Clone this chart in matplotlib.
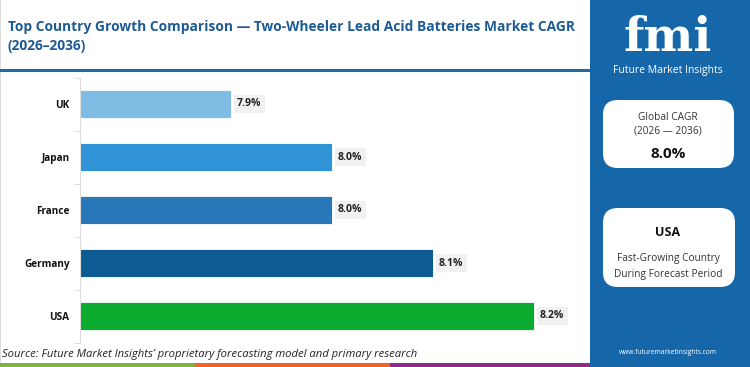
import matplotlib
matplotlib.use("Agg")
import matplotlib.pyplot as plt
from matplotlib.patches import Rectangle, FancyBboxPatch

countries = ["UK", "Japan", "France", "Germany", "USA"]
cagr = [7.9, 8.0, 8.0, 8.1, 8.2]
bar_colors = ["#7fbce4", "#2f93d6", "#2878b9", "#0e5b93", "#0aab2f"]
title = "Top Country Growth Comparison \u2014 Two-Wheeler Lead Acid Batteries Market CAGR\n(2026\u20132036)"
source = "Source: Future Market Insights\u2019 proprietary forecasting model and primary research"
global_cagr = "8.0%"
top_country = "USA"

W, H = 750, 367
plt.rcParams['font.family'] = ['Open Sans', 'DejaVu Sans']
fig = plt.figure(figsize=(W/100, H/100), dpi=100)
fig.patch.set_facecolor("white")

def fx(px): return px / W
def fy(py): return 1 - py / H

# Right panel
panel_blue = "#1667a9"
fig.patches.append(Rectangle((fx(590), 0), fx(160), 1, transform=fig.transFigure,
                             facecolor=panel_blue, edgecolor="none", zorder=0))
# faint left border
fig.patches.append(Rectangle((0, 0), 1.2/W, 1, transform=fig.transFigure,
                             facecolor="#dddddd", edgecolor="none"))
# Title separator
fig.patches.append(Rectangle((0, fy(72)), fx(590), 3/H, transform=fig.transFigure,
                             facecolor="#1d6aa6", edgecolor="none"))
# Bottom stripes
for x0, x1, c in [(0, 195, "#7cb342"), (195, 390, "#f0642a"), (390, 590, "#8e2c8a")]:
    fig.patches.append(Rectangle((fx(x0), 0), fx(x1 - x0), 4/H, transform=fig.transFigure,
                                 facecolor=c, edgecolor="none"))

fig.text(fx(8), fy(36.5), title, color="#1d5b94", fontsize=9.9, fontweight="bold",
         va="center", ha="left", linespacing=1.5)
fig.text(fx(2), fy(354), source, color="#222222", fontsize=8.1, style="italic",
         va="center", ha="left")

# Logo
fig.text(fx(668), fy(38), "fmi", color="white", fontsize=34, fontweight="bold",
         ha="center", va="center", family="DejaVu Serif")
fig.text(fx(668), fy(71), "Future Market Insights", color="white", fontsize=7.5,
         ha="center", va="center")
fig.text(fx(668), fy(353), "www.futuremarketinsights.com", color="white", fontsize=4.8,
         ha="center", va="center")

# Boxes
for (x0, y0, x1, y1) in [(603, 100, 734, 168), (603, 208, 735, 287)]:
    fig.patches.append(FancyBboxPatch((fx(x0), fy(y1)), fx(x1 - x0), (y1 - y0)/H,
                                      boxstyle="round,pad=0,rounding_size=0.02",
                                      transform=fig.transFigure, facecolor="white",
                                      edgecolor="none", mutation_aspect=2.0))
fig.text(fx(668), fy(118), "Global CAGR", fontsize=7.3, color="#333333", ha="center", va="center")
fig.text(fx(668), fy(131), "(2026 \u2014 2036)", fontsize=7.3, color="#333333", ha="center", va="center")
fig.text(fx(668), fy(154), global_cagr, fontsize=11, fontweight="bold", color="#111111", ha="center", va="center")
fig.text(fx(668), fy(232), top_country, fontsize=9, fontweight="bold", color="#111111", ha="center", va="center")
fig.text(fx(668), fy(258), "Fast-Growing Country", fontsize=7.3, color="#333333", ha="center", va="center")
fig.text(fx(668), fy(275), "During Forecast Period", fontsize=7.3, color="#333333", ha="center", va="center")

# Chart axes
ax = fig.add_axes([fx(80), fy(342.5), fx(510), 265/H])
ypos = list(range(len(countries)))
ax.barh(ypos, [v - 7.75 for v in cagr], left=7.75, height=0.51, color=bar_colors,
        edgecolor="white", linewidth=0.6)
ax.set_xlim(7.75, 8.255)
ax.set_ylim(len(countries) - 0.5, -0.5)
ax.set_yticks(ypos)
ax.set_yticklabels(countries, fontsize=7.2, fontweight="bold", color="#111111")
ax.set_yticks([i + 0.5 for i in range(-1, len(countries))], minor=True)
ax.tick_params(axis="y", which="major", length=0, pad=7.5)
ax.tick_params(axis="y", which="minor", length=4, color="#dddddd", width=0.8)
ax.set_xticks([])
for s in ["top", "right", "bottom"]:
    ax.spines[s].set_visible(False)
ax.spines["left"].set_color("#dddddd")
ax.spines["left"].set_linewidth(0.8)
ax.patch.set_alpha(0)

for y, v in zip(ypos, cagr):
    ax.annotate(f"{v:.1f}%", xy=(v, y), xytext=(4, 0), textcoords="offset points",
                va="center", ha="left", fontsize=7.5, fontweight="bold", color="#222222",
                bbox=dict(boxstyle="square,pad=0.3", facecolor="#f1f1f1", edgecolor="none"))

fig.savefig("out.png", dpi=100, facecolor="white")
